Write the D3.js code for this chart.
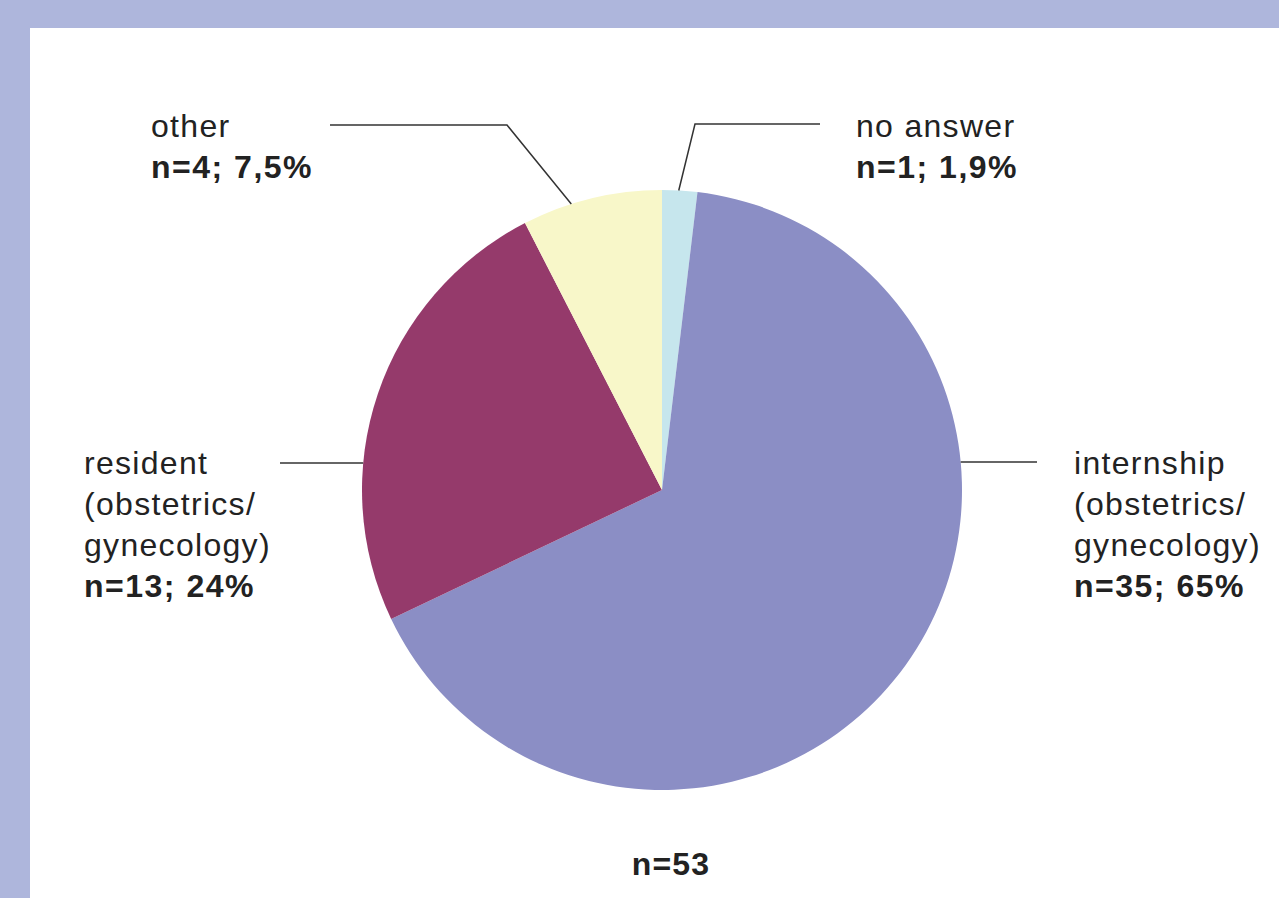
<!DOCTYPE html>
<html>
<head>
<meta charset="utf-8">
<script src="https://cdn.jsdelivr.net/npm/d3@7"></script>
<style>
	html, body { margin: 0; padding: 0; background: #aeb6dc; }
	svg { display: block; }
</style>
</head>
<body>
<div id="viz"></div>
<script>
// data, clockwise from 12 o'clock
let categories = ["no answer", "internship", "resident", "other"];
let counts = [1, 35, 13, 4];
let nameLines = [
	["no answer"],
	["internship", "(obstetrics/", "gynecology)"],
	["resident", "(obstetrics/", "gynecology)"],
	["other"]
];
let valueLabels = ["n=1; 1,9%", "n=35; 65%", "n=13; 24%", "n=4; 7,5%"];
let totalLabel = "n=53";
let colors = ["#c6e6ed", "#8b8ec5", "#953a6b", "#f8f7c9"];

// label layout: angle where the leader touches the pie (deg), elbow, end, text pos
// a = null -> horizontal leader, touches the pie at the end's y
let layout = [
	{a: 3.2, side: 1, elbow: [695, 124], end: [820, 124], tx: 856, ty: 137},
	{a: null, side: 1, elbow: null, end: [1037, 462], tx: 1074, ty: 474},
	{a: null, side: -1, elbow: null, end: [280, 463], tx: 84, ty: 474},
	{a: 342.4, side: -1, elbow: [507, 125], end: [330, 125], tx: 151, ty: 137}
];

function draw() {
	let width = 1279, height = 898;
	let cx = 662, cy = 490, r = 300;
	let lineH = 41;
	let font = "'Liberation Sans', Arial, Helvetica, sans-serif";

	let svg = d3.select("#viz").append("svg")
		.attr("width", width).attr("height", height);

	// white panel
	svg.append("rect")
		.attr("x", 30).attr("y", 28)
		.attr("width", width - 30).attr("height", height - 28)
		.style("fill", "white");

	let pie = d3.pie().sort(null).value(d => d)(counts);
	let arc = d3.arc().innerRadius(0).outerRadius(r);

	let g = svg.append("g").attr("transform", "translate(" + cx + "," + cy + ")");
	g.selectAll("path.slice").data(pie).enter().append("path")
		.attr("class", "slice")
		.attr("d", arc)
		.style("fill", (d, i) => colors[i]);

	// leader lines + labels
	layout.forEach((L, i) => {
		let start;
		if (L.a === null) {
			let dy = L.end[1] - cy;
			start = [cx + L.side * Math.sqrt(r * r - dy * dy), L.end[1]];
		} else {
			let rad = L.a * Math.PI / 180;
			start = [cx + r * Math.sin(rad), cy - r * Math.cos(rad)];
		}
		let pts = [start];
		if (L.elbow) pts.push(L.elbow);
		pts.push(L.end);
		svg.append("path")
			.attr("d", d3.line()(pts))
			.attr("fill", "none")
			.attr("stroke", "#333")
			.attr("stroke-width", 1.5);

		let t = svg.append("text")
			.attr("x", L.tx).attr("y", L.ty)
			.style("font-family", font)
			.style("font-size", "32px")
			.style("letter-spacing", "1.3px")
			.style("fill", "#222");
		nameLines[i].forEach((s, k) => {
			t.append("tspan").attr("x", L.tx).attr("dy", k === 0 ? 0 : lineH).text(s);
		});
		t.append("tspan").attr("x", L.tx).attr("dy", lineH)
			.style("font-weight", "bold")
			.style("letter-spacing", "1.5px")
			.text(valueLabels[i]);
	});

	svg.append("text")
		.attr("x", 671).attr("y", 875)
		.attr("text-anchor", "middle")
		.style("font-family", font)
		.style("font-size", "32px")
		.style("font-weight", "bold")
		.style("letter-spacing", "1.2px")
		.style("fill", "#222")
		.text(totalLabel);
}
draw();
</script>
</body>
</html>
